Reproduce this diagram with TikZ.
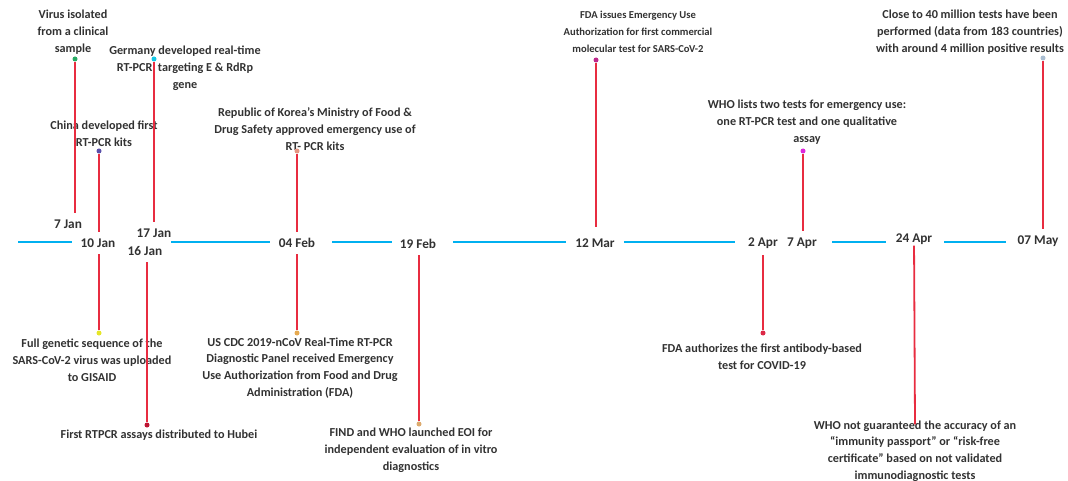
\documentclass[tikz,border=0pt]{standalone}
\usepackage{fontspec}
\setmainfont{Carlito}
\usetikzlibrary{positioning}

\definecolor{tlblue}{RGB}{0,176,240}
\definecolor{stemred}{RGB}{232,44,64}
\definecolor{txtgray}{RGB}{50,50,50}
\definecolor{dgreen}{RGB}{40,170,100}
\definecolor{dcyan}{RGB}{20,200,230}
\definecolor{dpurple}{RGB}{90,80,170}
\definecolor{dsalmon}{RGB}{230,150,130}
\definecolor{dmagenta}{RGB}{190,40,140}
\definecolor{dpink}{RGB}{220,40,220}
\definecolor{dsteel}{RGB}{170,190,210}
\definecolor{dyellow}{RGB}{230,230,40}
\definecolor{ddarkred}{RGB}{190,20,50}
\definecolor{dorange}{RGB}{230,170,80}
\definecolor{dtan}{RGB}{220,170,110}
\definecolor{dred}{RGB}{220,40,70}

\begin{document}
\begin{tikzpicture}[x=1pt,y=-1pt,
  event/.style={align=center,font=\fontsize{12.2}{16.8}\selectfont\bfseries,text=txtgray,inner sep=0pt},
  date/.style={font=\fontsize{13.3}{14}\selectfont\bfseries,text=txtgray,inner sep=1pt},
  stem/.style={draw=stemred,line width=1.8pt,shorten >=5pt},
  tl/.style={draw=tlblue,line width=2.6pt},
  evdot/.style={circle,fill=#1,inner sep=0pt,minimum size=5pt}]

\useasboundingbox (0,0) rectangle (1068,481);

% dates on the time line
\node[date] (jan7) at (68,224) {7 Jan};
\node[date] (jan10) at (98,243) {10 Jan};
\node[date] (jan17) at (154,233) {17 Jan};
\node[date] (jan16) at (145,251) {16 Jan};
\node[date] (feb04) at (297,243) {04 Feb};
\node[date] (feb19) at (418,244) {19 Feb};
\node[date] (mar12) at (595,243) {12 Mar};
\node[date] (apr2) at (763,243) {2 Apr};
\node[date] (apr7) at (802,243) {7 Apr};
\node[date] (apr24) at (914,239) {24 Apr};
\node[date] (may07) at (1038,241) {07 May};

% time line
\coordinate (tlstart) at (18,242);
\draw[tl] (tlstart) -- ([xshift=-8pt]jan10.west |- tlstart);
\draw[tl] ([xshift=-1pt]jan17.east |- tlstart) -- ([xshift=-8pt]feb04.west |- tlstart);
\draw[tl] ([xshift=16pt]feb04.east |- tlstart) -- ([xshift=-7pt]feb19.west |- tlstart);
\draw[tl] ([xshift=16pt]feb19.east |- tlstart) -- ([xshift=-8pt]mar12.west |- tlstart);
\draw[tl] ([xshift=8pt]mar12.east |- tlstart) -- ([xshift=-12pt]apr2.west |- tlstart);
\draw[tl] ([xshift=14pt]apr7.east |- tlstart) -- ([xshift=-9pt]apr24.west |- tlstart);
\draw[tl] ([xshift=11pt]apr24.east |- tlstart) -- ([xshift=-10pt]may07.west |- tlstart);

% events above
\node[event] (virus) at (73,32) {Virus isolated\\from a clinical\\sample};
\node[event] (germany) at (185,68) {Germany developed real-time\\RT-PCR\ \ targeting E \& RdRp\\gene};
\node[event] (china) at (104,134) {China developed first\\RT-PCR kits};
\node[event] (korea) at (315,129) {Republic of Korea’s Ministry of Food \&\\Drug Safety approved emergency use of\\RT- PCR kits};
\node[event,font=\fontsize{10.6}{16.8}\selectfont\bfseries] (fdaeua) at (638,32) {FDA issues Emergency Use\\Authorization\ for first commercial\\molecular test for SARS-CoV-2};
\node[event] (wholist) at (807,122) {WHO lists two tests for emergency use:\\one RT-PCR test and one qualitative\\assay};
\node[event] (tests) at (970,32) {Close to 40 million tests have been\\performed (data from 183 countries)\\with around 4 million positive results};

% events below
\node[event] (genome) at (92,360) {Full genetic sequence of the\\SARS-CoV-2 virus was uploaded\\to GISAID};
\node[event] (hubei) at (159,435) {First RTPCR assays distributed to Hubei};
\node[event] (cdc) at (300,368) {US CDC 2019-nCoV Real-Time RT-PCR\\Diagnostic\ Panel received Emergency\\Use Authorization\ from\ Food and Drug\\Administration\ (FDA)};
\node[event] (find) at (411,450) {FIND and WHO launched EOI for\\independent evaluation of in vitro\\diagnostics};
\node[event] (antibody) at (762,357) {FDA authorizes the first antibody-based\\test for COVID-19};
\node[event] (whono) at (915,451) {WHO not guaranteed the accuracy of an\\“immunity passport”\ or “risk-free\\certificate”\ based on\ not validated\\immunodiagnostic tests};

% dots
\node[evdot=dgreen] (v1) at (75,59) {};
\node[evdot=dcyan] (v2) at (154,59) {};
\node[evdot=dpurple] (v3) at (99,151) {};
\node[evdot=dsalmon] (v4) at (297,151) {};
\node[evdot=dmagenta] (v5) at (596,60) {};
\node[evdot=dpink] (v6) at (803,151) {};
\node[evdot=dsteel] (v7) at (1043,58) {};
\node[evdot=dyellow] (v8) at (99,333) {};
\node[evdot=ddarkred] (v9) at (147,425) {};
\node[evdot=dorange] (v10) at (297,333) {};
\node[evdot=dtan] (v11) at (419,424) {};
\node[evdot=dred] (v12) at (763,333) {};

% stems
\draw[stem] (v1) -- (v1 |- jan7.north);
\draw[stem] (v2) -- (v2 |- jan17.north);
\draw[stem] (v3) -- (v3 |- jan10.north);
\draw[stem] (v4) -- (v4 |- feb04.north);
\draw[stem,shorten >=10pt] (v5) -- (v5 |- mar12.north);
\draw[stem] (v6) -- (v6 |- apr7.north);
\draw[stem] (v7) -- (v7 |- may07.north);
\draw[stem] (v8) -- (v8 |- jan10.south);
\draw[stem] (v9) -- (v9 |- jan16.south);
\draw[stem] (v10) -- (v10 |- feb04.south);
\draw[stem] (v11) -- (v11 |- feb19.south);
\draw[stem] (v12) -- (v12 |- apr2.south);
\draw[stem,shorten >=0pt] (apr24) -- ([yshift=-4pt]whono.north);
\end{tikzpicture}
\end{document}
